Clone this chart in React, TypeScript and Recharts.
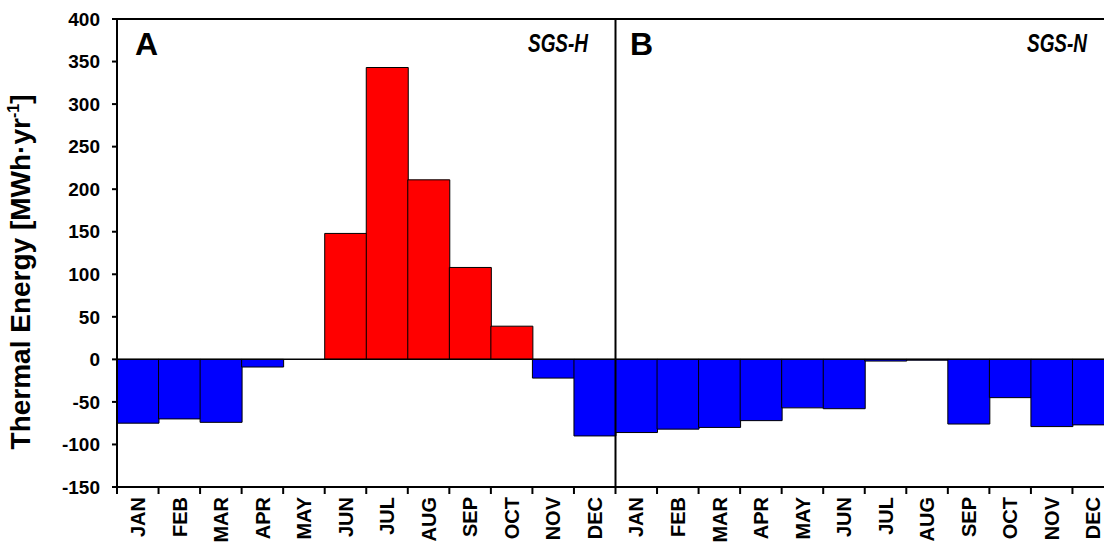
import { BarChart, Bar, Cell, XAxis, YAxis, ReferenceLine } from "recharts";

const months = ["JAN", "FEB", "MAR", "APR", "MAY", "JUN", "JUL", "AUG", "SEP", "OCT", "NOV", "DEC"];
// SGS-H (panel A) and SGS-N (panel B), MWh per year
const sgsH = [-75, -70, -74, -9, 0, 148, 343, 211, 108, 39, -22, -90];
const sgsN = [-86, -82, -80, -72, -57, -58, -2, -1, -76, -45, -79, -77];
const yTicks = [-150, -100, -50, 0, 50, 100, 150, 200, 250, 300, 350, 400];

const data = [
  ...months.map((m, i) => ({ key: `A-${m}`, month: m, value: sgsH[i] })),
  ...months.map((m, i) => ({ key: `B-${m}`, month: m, value: sgsN[i] })),
];

const FONT = '"Liberation Sans", Arial, Helvetica, sans-serif';

function MonthTick(props: any) {
  const { x, y, payload } = props;
  const half = payload?.offset ?? 0;
  const month = String(payload.value).slice(2);
  return (
    <g transform={`translate(${x},${y})`}>
      <line x1={-half} x2={-half} y1={0} y2={7} stroke="#000" strokeWidth={2} />
      <text
        transform="rotate(-90)"
        x={-10}
        y={0}
        dy="0.36em"
        textAnchor="end"
        fontFamily={FONT}
        fontWeight="bold"
        fontSize={20}
        fill="#000"
      >
        {month}
      </text>
    </g>
  );
}

export default function App() {
  return (
    <div style={{ position: "absolute", left: 0, top: 0, width: 1104, height: 552, overflow: "hidden", background: "#fff" }}>
      <BarChart
        width={1114}
        height={552}
        data={data}
        margin={{ top: 19, right: 0, bottom: 0, left: 0 }}
        barCategoryGap={0}
        barGap={0}
      >
        <XAxis
          dataKey="key"
          interval={0}
          height={65}
          tickSize={0}
          tickMargin={0}
          tickLine={false}
          axisLine={{ stroke: "#000", strokeWidth: 2 }}
          tick={<MonthTick />}
        />
        <YAxis
          width={117}
          domain={[-150, 400]}
          ticks={yTicks}
          interval={0}
          tickSize={5}
          tickMargin={12}
          axisLine={{ stroke: "#000", strokeWidth: 2 }}
          tickLine={{ stroke: "#000", strokeWidth: 2 }}
          tick={{ fill: "#000", fontSize: 19, fontWeight: "bold", fontFamily: FONT }}
        />
        <Bar dataKey="value" stroke="#000" strokeWidth={1} isAnimationActive={false}>
          {data.map((d) => (
            <Cell key={d.key} fill={d.value >= 0 ? "#FF0000" : "#0000FF"} />
          ))}
        </Bar>
        <ReferenceLine y={0} stroke="#000" strokeWidth={1.5} />
        <ReferenceLine y={400} stroke="#000" strokeWidth={2} />
        <ReferenceLine x="A-DEC" position="end" stroke="#000" strokeWidth={2} />
      </BarChart>
      <svg
        width={1104}
        height={552}
        style={{ position: "absolute", left: 0, top: 0, pointerEvents: "none" }}
      >
        <text
          transform="translate(30,272) rotate(-90)"
          textAnchor="middle"
          fontFamily={FONT}
          fontWeight="bold"
          fontSize={28}
          fill="#000"
        >
          Thermal Energy [MWh·yr
          <tspan fontSize={16} dy={-11}>-1</tspan>
          <tspan dy={11}>]</tspan>
        </text>
        <text x={135} y={55} fontFamily={FONT} fontWeight="bold" fontSize={32} fill="#000">A</text>
        <text x={630} y={55} fontFamily={FONT} fontWeight="bold" fontSize={32} fill="#000">B</text>
        <text
          x={528}
          y={52}
          textLength={60}
          lengthAdjust="spacingAndGlyphs"
          fontFamily={FONT}
          fontWeight="bold"
          fontStyle="italic"
          fontSize={25}
          fill="#000"
        >
          SGS-H
        </text>
        <text
          x={1027}
          y={52}
          textLength={60}
          lengthAdjust="spacingAndGlyphs"
          fontFamily={FONT}
          fontWeight="bold"
          fontStyle="italic"
          fontSize={25}
          fill="#000"
        >
          SGS-N
        </text>
      </svg>
    </div>
  );
}
